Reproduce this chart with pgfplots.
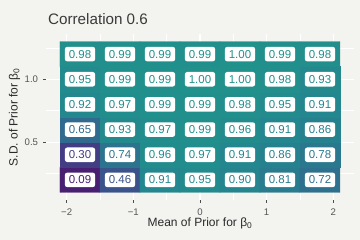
\documentclass[border=0pt]{standalone}
\usepackage{fontspec}
\setmainfont{Liberation Sans}
\usepackage{pgfplots}
\usepackage{pgfplotstable}
\pgfplotsset{compat=1.18}
\definecolor{bg}{HTML}{F3F3EF}
\definecolor{ticklab}{HTML}{555555}
\definecolor{titlec}{HTML}{3A3A3A}
\definecolor{labc}{HTML}{2A2A2A}
\pgfplotstableread{
x y v
-1.8 0.2 0.09
-1.2 0.2 0.46
-0.6 0.2 0.91
0.0 0.2 0.95
0.6 0.2 0.90
1.2 0.2 0.81
1.8 0.2 0.72
-1.8 0.4 0.30
-1.2 0.4 0.74
-0.6 0.4 0.96
0.0 0.4 0.97
0.6 0.4 0.91
1.2 0.4 0.86
1.8 0.4 0.78
-1.8 0.6 0.65
-1.2 0.6 0.93
-0.6 0.6 0.97
0.0 0.6 0.99
0.6 0.6 0.96
1.2 0.6 0.91
1.8 0.6 0.86
-1.8 0.8 0.92
-1.2 0.8 0.97
-0.6 0.8 0.99
0.0 0.8 0.99
0.6 0.8 0.98
1.2 0.8 0.95
1.8 0.8 0.91
-1.8 1.0 0.95
-1.2 1.0 0.99
-0.6 1.0 0.99
0.0 1.0 1.00
0.6 1.0 1.00
1.2 1.0 0.98
1.8 1.0 0.93
-1.8 1.2 0.98
-1.2 1.2 0.99
-0.6 1.2 0.99
0.0 1.2 0.99
0.6 1.2 1.00
1.2 1.2 0.99
1.8 1.2 0.98
}\datatable
\begin{document}
\begin{tikzpicture}
\fill[bg] (-46bp,-40bp) rectangle (314bp,200bp);
\begin{axis}[
  at={(0,0)}, anchor=south west,
  scale only axis, width=308bp, height=166bp,
  xmin=-2.31, xmax=2.31, ymin=0.04, ymax=1.36,
  clip=false,
  axis line style={draw=none},
  tick pos=left,
  xtick={-2,-1,0,1,2}, xticklabels={−2,−1,0,1,2},
  ytick={0.5,1.0}, yticklabels={0.5,1.0},
  minor xtick={-1.5,-0.5,0.5,1.5}, minor ytick={0.25,0.75,1.25},
  grid=both,
  major grid style={white, line width=1.1bp},
  minor grid style={white, line width=0.55bp},
  tick align=outside, major tick length=2.75bp, minor tick length=0pt,
  tick style={color=black!70, line width=0.5bp},
  xticklabel style={anchor=north, inner sep=0pt, yshift=-6bp, text height=6.9bp, text depth=0pt, font=\fontsize{9.6bp}{10bp}\selectfont, color=ticklab},
  yticklabel style={anchor=east, inner sep=0pt, xshift=-5bp, text height=6.9bp, text depth=0pt, font=\fontsize{9.6bp}{10bp}\selectfont, color=ticklab},
  xlabel={Mean of Prior for β\textsubscript{0}},
  ylabel={S.D. of Prior for β\textsubscript{0}},
  xlabel style={at={(axis description cs:0.5,-0.1608)}, anchor=base, inner sep=0pt, font=\fontsize{12bp}{14bp}\selectfont, color=labc},
  ylabel style={at={(axis description cs:-0.0919,0.5)}, anchor=base, inner sep=0pt, rotate=0, font=\fontsize{12bp}{14bp}\selectfont, color=labc},
  title={Correlation 0.6},
  title style={at={(axis description cs:0.0065,1.0241)}, anchor=base west, inner sep=0pt, font=\fontsize{15.2bp}{17bp}\selectfont, color=titlec},
  colormap={vir}{rgb255=(68,1,84) rgb255=(71,19,101) rgb255=(72,36,117) rgb255=(70,52,128) rgb255=(65,68,135) rgb255=(59,82,139) rgb255=(53,95,141) rgb255=(47,108,142) rgb255=(42,120,142) rgb255=(37,132,142) rgb255=(33,145,140)},
  point meta min=-0.1, point meta max=1,
  /pgf/number format/assume math mode=true,
]
\addplot[matrix plot*, mesh/cols=7, point meta=explicit] table[x=x, y=y, meta=v]{\datatable};
\addplot[scatter, only marks, mark=*, mark size=0pt, point meta=explicit,
  nodes near coords*={\pgfmathprintnumber[fixed,fixed zerofill,precision=2]{\pgfplotspointmeta}},
  every node near coord/.append style={anchor=center, fill=white, text=mapped color, draw=none, rounded corners=2.5bp, inner xsep=4bp, inner ysep=3.2bp, text height=8.2bp, text depth=0pt, font=\fontsize{11.5bp}{13bp}\selectfont}
] table[x=x, y=y, meta=v]{\datatable};
\end{axis}
\end{tikzpicture}
\end{document}
